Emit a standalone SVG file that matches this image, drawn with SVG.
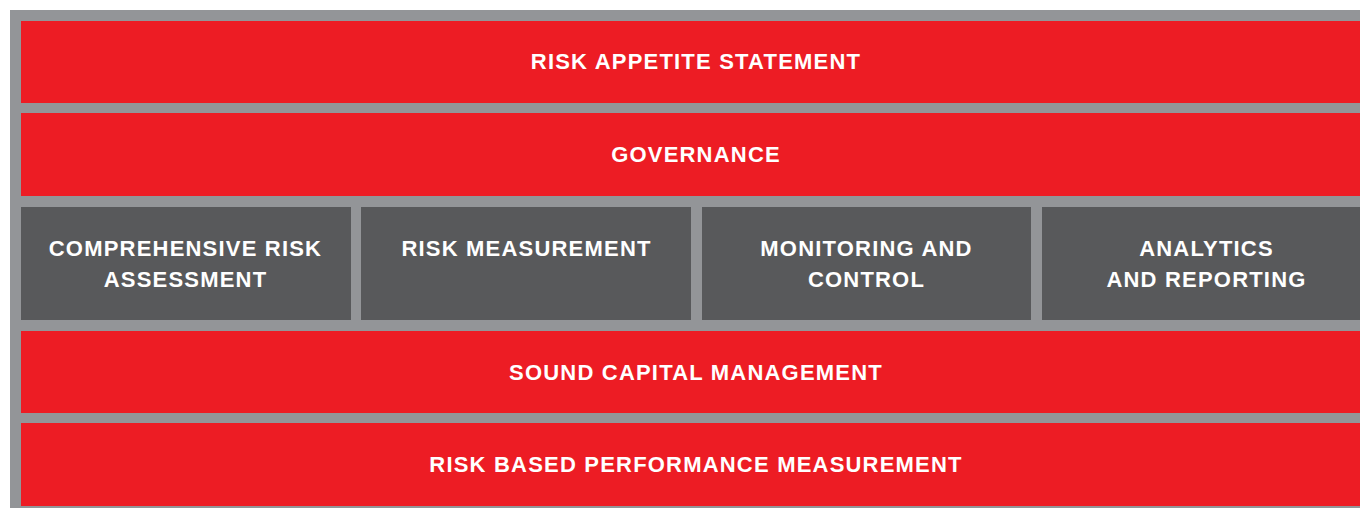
<svg xmlns="http://www.w3.org/2000/svg" width="1360" height="508" viewBox="0 0 1360 508">
<style>
.red{fill:#ED1C24}
.dark{fill:#58595B}
.t{fill:#FFFFFF;font-family:"Liberation Sans",Arial,sans-serif;font-weight:bold;font-size:22px;letter-spacing:1.2px;text-anchor:middle}
</style>
<rect x="10" y="10" width="1350" height="498" fill="#939598"/>
<g id="risk-appetite">
<rect class="red" x="21" y="21" width="1339" height="82"/>
<text class="t" x="696" y="68.5">RISK APPETITE STATEMENT</text>
</g>
<g id="governance">
<rect class="red" x="21" y="113" width="1339" height="83"/>
<text class="t" x="696" y="161.5">GOVERNANCE</text>
</g>
<g id="comprehensive">
<rect class="dark" x="21" y="207" width="330" height="113"/>
<text class="t" x="185.5" y="256">COMPREHENSIVE RISK</text>
<text class="t" x="185.5" y="287">ASSESSMENT</text>
</g>
<g id="measurement">
<rect class="dark" x="361" y="207" width="330" height="113"/>
<text class="t" x="526.5" y="256">RISK MEASUREMENT</text>
</g>
<g id="monitoring">
<rect class="dark" x="702" y="207" width="329" height="113"/>
<text class="t" x="866.5" y="256">MONITORING AND</text>
<text class="t" x="866.5" y="287">CONTROL</text>
</g>
<g id="analytics">
<rect class="dark" x="1042" y="207" width="318" height="113"/>
<text class="t" x="1206.5" y="256">ANALYTICS</text>
<text class="t" x="1206.5" y="287">AND REPORTING</text>
</g>
<g id="capital">
<rect class="red" x="21" y="331" width="1339" height="82"/>
<text class="t" x="696" y="379.5">SOUND CAPITAL MANAGEMENT</text>
</g>
<g id="performance">
<rect class="red" x="21" y="423" width="1339" height="83"/>
<text class="t" x="696" y="471.5">RISK BASED PERFORMANCE MEASUREMENT</text>
</g>
<g id="connectors"></g>
</svg>
